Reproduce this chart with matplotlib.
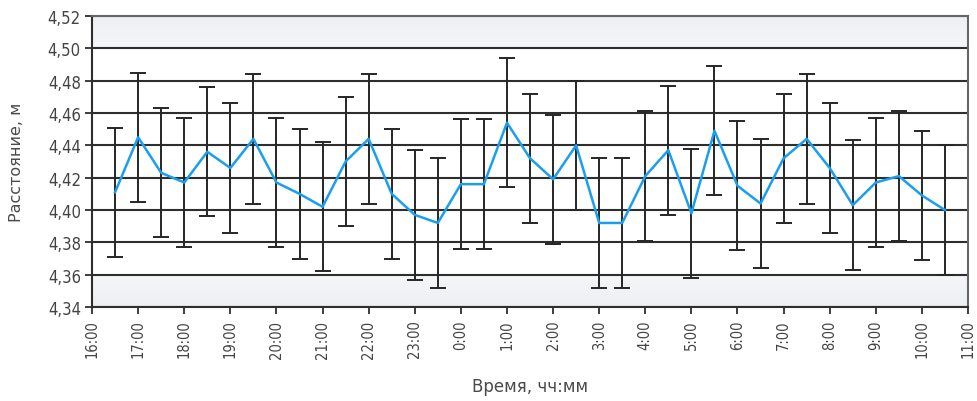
import numpy as np
import matplotlib
matplotlib.use("Agg")
import matplotlib.pyplot as plt

plt.rcParams['font.family'] = ['DejaVu Sans']
plt.rcParams['font.stretch'] = 'condensed'

# Measurement times (half-hour steps, overnight) and mean distance with error
times = ["16:30", "17:00", "17:30", "18:00", "18:30", "19:00", "19:30", "20:00",
         "20:30", "21:00", "21:30", "22:00", "22:30", "23:00", "23:30", "0:00",
         "0:30", "1:00", "1:30", "2:00", "2:30", "3:00", "3:30", "4:00",
         "4:30", "5:00", "5:30", "6:00", "6:30", "7:00", "7:30", "8:00",
         "8:30", "9:00", "9:30", "10:00", "10:30"]
distance = [4.411, 4.445, 4.423, 4.417, 4.436, 4.426, 4.444, 4.417,
            4.410, 4.402, 4.430, 4.444, 4.410, 4.397, 4.392, 4.416,
            4.416, 4.454, 4.432, 4.419, 4.440, 4.392, 4.392, 4.421,
            4.437, 4.398, 4.449, 4.415, 4.404, 4.432, 4.444, 4.426,
            4.403, 4.417, 4.421, 4.409, 4.400]
error = [0.04] * len(distance)

tick_labels = ["16:00", "17:00", "18:00", "19:00", "20:00", "21:00", "22:00",
               "23:00", "0:00", "1:00", "2:00", "3:00", "4:00", "5:00",
               "6:00", "7:00", "8:00", "9:00", "10:00", "11:00"]
y_ticks = [4.34, 4.36, 4.38, 4.40, 4.42, 4.44, 4.46, 4.48, 4.50, 4.52]

START_HOUR = 16


def hours_since_start(label, is_end=False):
    h, m = label.split(":")
    value = int(h) + int(m) / 60.0
    if value < START_HOUR or is_end:
        value += 24
    return value - START_HOUR


x = [hours_since_start(t) for t in times]
xt = [hours_since_start(t, is_end=(i == len(tick_labels) - 1))
      for i, t in enumerate(tick_labels)]

fig = plt.figure(figsize=(9.78, 4.02), dpi=100)
ax = fig.add_axes([0.0941, 0.2338, 0.8957, 0.7239])

ymin, ymax = y_ticks[0], y_ticks[-1]
xmin, xmax = xt[0], xt[-1]

# Soft grey shading in the outermost bands
ys = np.linspace(ymin, ymax, 400)
shade = np.ones_like(ys)
top = ys >= 4.50
bot = ys <= 4.36
shade[top] = 0.975 - 0.03 * (ys[top] - 4.50) / 0.02
shade[bot] = 0.975 - 0.03 * (4.36 - ys[bot]) / 0.02
rgb = np.stack([shade * 0.985, shade * 0.99, shade], axis=-1)
rgb[~(top | bot)] = 1.0
img = np.clip(rgb, 0, 1)[:, None, :]
ax.imshow(img, extent=[xmin, xmax, ymin, ymax], origin="lower",
          aspect="auto", zorder=0, interpolation="bilinear")

for yv in y_ticks:
    ax.axhline(yv, color="#2e2e2e", lw=1.5, zorder=1)

ax.errorbar(x, distance, yerr=error, fmt="none", ecolor="#262626",
            elinewidth=1.4, capsize=5.5, capthick=1.4, zorder=2)
ax.plot(x, distance, color="#1a9ff0", lw=1.8, zorder=3)

ax.set_xlim(xmin, xmax)
ax.set_ylim(ymin, ymax)
ax.set_xticks(xt)
ax.set_xticklabels(tick_labels, rotation=90)
ax.set_yticks(y_ticks)
ax.set_yticklabels([f"{v:.2f}".replace(".", ",") for v in y_ticks])

for side in ["left", "bottom"]:
    ax.spines[side].set_color("#2e2e2e")
    ax.spines[side].set_linewidth(1.5)
for side in ["right", "top"]:
    ax.spines[side].set_color("#666666")
    ax.spines[side].set_linewidth(1.5)

ax.tick_params(axis="both", colors="#2e2e2e", width=1.3, length=5,
               labelcolor="#444444")
ax.tick_params(axis="y", pad=3, labelsize=12)
ax.tick_params(axis="x", pad=4, labelsize=10.5)

ax.set_ylabel("Расстояние, м", color="#4a4a4a", fontsize=11.5,
              fontstretch="normal", labelpad=17)
ax.set_xlabel("Время, чч:мм", color="#4a4a4a", fontsize=12,
              fontstretch="normal", labelpad=14)

fig.savefig("out.png", dpi=100)
